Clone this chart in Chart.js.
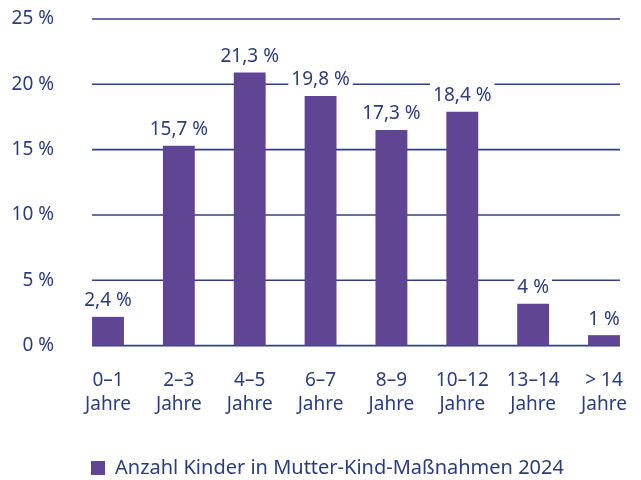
<!DOCTYPE html>
<html lang="de">
<head>
  <meta charset="UTF-8">
  <title>Mutter-Kind-Maßnahmen 2024</title>
  <style>
    html, body { margin: 0; padding: 0; background: #fff; overflow: hidden; }
  </style>
</head>
<body>
  <canvas id="ageChart" width="641" height="480"></canvas>

  <script src="https://cdn.jsdelivr.net/npm/chart.js"></script>
  <script>
    // Data
    const categories = [
      ['0–1', 'Jahre'], ['2–3', 'Jahre'], ['4–5', 'Jahre'], ['6–7', 'Jahre'],
      ['8–9', 'Jahre'], ['10–12', 'Jahre'], ['13–14', 'Jahre'], ['> 14', 'Jahre']
    ];
    // bar heights as drawn in the picture
    const barValues = [2.2, 15.3, 20.9, 19.1, 16.5, 17.9, 3.2, 0.8];
    // value labels as printed above the bars
    const valueLabels = ['2,4 %', '15,7 %', '21,3 %', '19,8 %', '17,3 %', '18,4 %', '4 %', '1 %'];
    const yTicks = [0, 5, 10, 15, 20, 25];
    const seriesName = 'Anzahl Kinder in Mutter-Kind-Maßnahmen 2024';

    const textColor = '#2b3d7e';
    const gridColor = '#2f4083';
    const barColor = '#604594';
    const fontFamily = '"Noto Sans", "Open Sans", sans-serif';

    // grid lines spanning first bar to last bar, and value labels on white boxes
    const barDecor = {
      id: 'barDecor',
      afterLayout(chart) {
        // legend sits under the plot, starting at the plot's left edge
        chart.legend.left = 81;
        chart.legend.top += 8;
      },
      beforeDatasetsDraw(chart) {
        const { ctx, scales: { y } } = chart;
        const bars = chart.getDatasetMeta(0).data;
        const first = bars[0];
        const last = bars[bars.length - 1];
        const left = first.x - first.width / 2;
        const right = last.x + last.width / 2;
        ctx.save();
        ctx.strokeStyle = gridColor;
        ctx.lineWidth = 1.6;
        yTicks.forEach(t => {
          const py = y.getPixelForValue(t);
          ctx.beginPath();
          ctx.moveTo(left, py);
          ctx.lineTo(right, py);
          ctx.stroke();
        });
        ctx.restore();
      },
      afterDatasetsDraw(chart) {
        const { ctx } = chart;
        const bars = chart.getDatasetMeta(0).data;
        ctx.save();
        ctx.font = '19px ' + fontFamily;
        ctx.textAlign = 'center';
        ctx.textBaseline = 'middle';
        bars.forEach((bar, i) => {
          const text = valueLabels[i];
          const w = ctx.measureText(text).width;
          const cy = bar.y - 16;
          ctx.fillStyle = '#fff';
          ctx.fillRect(bar.x - w / 2 - 3, cy - 14, w + 6, 26);
          ctx.fillStyle = textColor;
          ctx.fillText(text, bar.x, cy);
        });
        ctx.restore();
      }
    };

    const ctx = document.getElementById('ageChart').getContext('2d');
    new Chart(ctx, {
      type: 'bar',
      data: {
        labels: categories,
        datasets: [{
          label: seriesName,
          data: barValues,
          backgroundColor: barColor,
          borderWidth: 0,
          barPercentage: 0.45,
          categoryPercentage: 1,
          clip: false
        }]
      },
      options: {
        responsive: false,
        animation: false,
        layout: { padding: { top: 19, left: 0, right: 37, bottom: 0 } },
        scales: {
          x: {
            offset: false,
            grid: { display: false, drawTicks: false },
            border: { display: false },
            ticks: {
              color: textColor,
              font: { family: fontFamily, size: 19, lineHeight: 24 / 19 },
              padding: 23,
              maxRotation: 0,
              autoSkip: false
            },
            afterFit(scale) {
              scale.height = 94.4;
              scale.paddingLeft = 0;
              scale.paddingRight = 0;
            }
          },
          y: {
            min: 0,
            max: 25,
            grid: { display: false, drawTicks: false },
            border: { display: false },
            ticks: {
              stepSize: 5,
              color: textColor,
              font: { family: fontFamily, size: 19 },
              padding: 54,
              callback: v => v + ' %'
            },
            afterFit(scale) {
              scale.width = 108;
              // the wide label gap should not push the plot down
              scale.paddingTop = 12;
              scale.paddingBottom = 12;
            }
          }
        },
        plugins: {
          legend: {
            position: 'bottom',
            align: 'start',
            labels: {
              color: textColor,
              font: { family: fontFamily, size: 20, lineHeight: 21.6 / 20 },
              boxWidth: 14,
              boxHeight: 14,
              padding: 10
            }
          },
          tooltip: { enabled: false }
        }
      },
      plugins: [barDecor]
    });
  </script>
</body>
</html>
